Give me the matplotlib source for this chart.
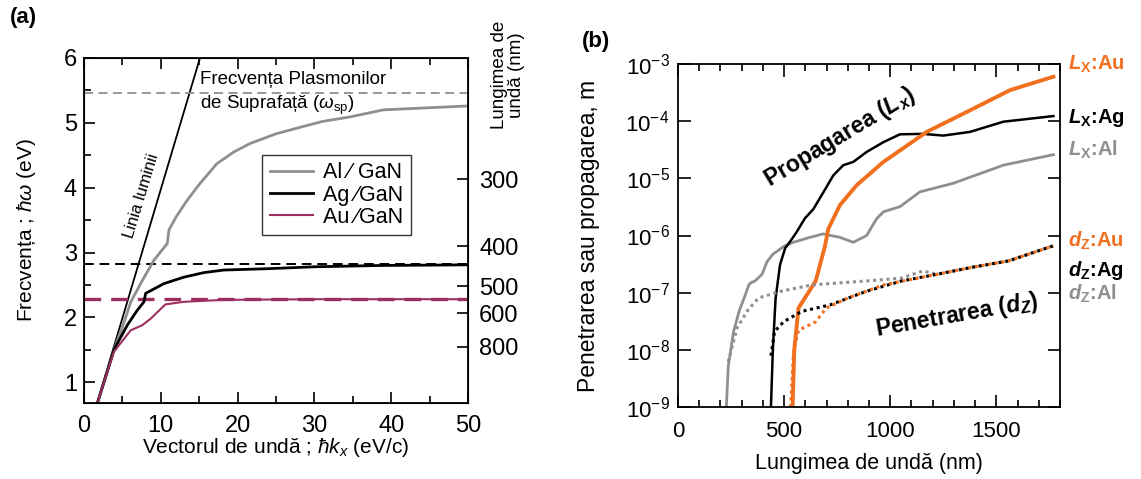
import numpy as np
import matplotlib
matplotlib.use("Agg")
import matplotlib.pyplot as plt
from matplotlib.ticker import MultipleLocator, NullLocator, FixedLocator, LogLocator

plt.rcParams['font.family'] = ['Liberation Sans', 'DejaVu Sans']
plt.rcParams['mathtext.fontset'] = 'custom'
plt.rcParams['mathtext.rm'] = 'Liberation Sans'
plt.rcParams['mathtext.sf'] = 'Liberation Sans'
plt.rcParams['mathtext.it'] = 'Liberation Sans:italic'
plt.rcParams['mathtext.bf'] = 'Liberation Sans:bold'
plt.rcParams['mathtext.bfit'] = 'Liberation Sans:italic:bold'

# ---- panel (a): dispersion, energy (eV) vs wave vector (eV/c)
k_light = [0, 15.1]
e_light = [0, 6.0]

k_al = [1.75, 3.0, 3.9, 5.0, 6.1, 7.6, 9.1, 10.85, 11.07, 12.0, 13.4, 15.0, 17.3, 19.5, 21.6, 25.0, 28.1, 31.0, 34.6, 39.0, 50.0]
e_al = [0.68, 1.15, 1.5, 1.85, 2.24, 2.57, 2.88, 3.14, 3.35, 3.55, 3.8, 4.05, 4.37, 4.55, 4.68, 4.83, 4.93, 5.02, 5.09, 5.2, 5.26]

k_ag = [1.75, 3.0, 3.9, 5.64, 6.94, 7.81, 8.03, 10.4, 13.0, 15.6, 18.2, 23.8, 30.0, 38.5, 50.0]
e_ag = [0.68, 1.15, 1.5, 1.88, 2.11, 2.24, 2.37, 2.52, 2.62, 2.69, 2.73, 2.75, 2.78, 2.80, 2.81]

k_au = [1.75, 3.0, 3.9, 6.08, 7.59, 8.68, 10.6, 13.0, 18.2, 30.0, 50.0]
e_au = [0.68, 1.15, 1.47, 1.80, 1.88, 1.98, 2.20, 2.24, 2.27, 2.28, 2.28]

sp_al, sp_ag, sp_au = 5.46, 2.83, 2.29
wl_ticks = [300, 400, 500, 600, 800]

# ---- panel (b): propagation / penetration length (m) vs wavelength (nm)
wl_lx_au = [540, 548, 568, 649, 693, 708, 763, 842, 968, 1172, 1376, 1565, 1769]
lx_au = [1e-9, 1e-8, 5.4e-8, 1.6e-7, 6.6e-7, 1.3e-6, 3.4e-6, 7.6e-6, 1.94e-5, 6.5e-5, 1.55e-4, 3.5e-4, 6.0e-4]

wl_lx_ag = [438, 447, 460, 481, 505, 530, 559, 598, 638, 685, 732, 779, 826, 889, 968, 1046, 1156, 1250, 1376, 1533, 1769]
lx_ag = [1e-9, 1e-8, 8e-8, 3.1e-7, 6e-7, 8e-7, 1.15e-6, 2.0e-6, 2.9e-6, 5.7e-6, 1.13e-5, 1.7e-5, 1.94e-5, 2.9e-5,
         4.3e-5, 5.9e-5, 6.0e-5, 5.6e-5, 6.5e-5, 9.8e-5, 1.23e-4]

wl_lx_al = [228, 237, 262, 290, 312, 335, 345, 363, 396, 420, 447, 500, 543, 622, 685, 720, 763, 826, 889, 936, 968,
            1046, 1140, 1297, 1533, 1769]
lx_al = [1e-9, 5.2e-9, 2.1e-8, 5.0e-8, 8.1e-8, 1.4e-7, 1.5e-7, 1.6e-7, 2.1e-7, 3.5e-7, 4.7e-7, 6.5e-7, 7.6e-7, 9.3e-7,
         1.07e-6, 1.0e-6, 9.3e-7, 7.6e-7, 1.0e-6, 1.97e-6, 2.6e-6, 3.2e-6, 5.8e-6, 8.2e-6, 1.7e-5, 2.6e-5]

wl_dz_al = [237, 278, 330, 380, 481, 632, 885, 1053, 1154, 1221, 1390, 1558, 1768]
dz_al = [6.2e-9, 2.4e-8, 5e-8, 8.1e-8, 1.05e-7, 1.37e-7, 1.6e-7, 1.8e-7, 2.4e-7, 2.1e-7, 2.8e-7, 3.6e-7, 6.6e-7]

wl_dz_ag = [438, 455, 498, 582, 716, 885, 1053, 1221, 1390, 1558, 1768]
dz_ag = [7.9e-9, 2.1e-8, 3.1e-8, 4.7e-8, 6.1e-8, 1.05e-7, 1.6e-7, 2.1e-7, 2.8e-7, 3.6e-7, 6.6e-7]

wl_dz_au = [531, 545, 568, 649, 699, 801, 969, 1221, 1390, 1558, 1768]
dz_au = [1e-9, 1e-8, 2.2e-8, 3.1e-8, 5.4e-8, 8.1e-8, 1.37e-7, 2.1e-7, 2.8e-7, 3.6e-7, 6.6e-7]

right_labels = [r"$\mathbfit{L}_\mathbf{X}$:Au", r"$\mathbfit{L}_\mathbf{X}$:Ag", r"$\mathbfit{L}_\mathbf{X}$:Al",
                r"$\mathbfit{d}_\mathbf{Z}$:Au", r"$\mathbfit{d}_\mathbf{Z}$:Ag", r"$\mathbfit{d}_\mathbf{Z}$:Al"]
right_label_y = [1.0e-3, 1.13e-4, 3.1e-5, 8.1e-7, 2.4e-7, 9.6e-8]

gray = '#8f8f8f'
purple = '#9c2f5f'
orange = '#f07020'
right_label_colors = [orange, 'black', gray, orange, 'black', gray]

fig = plt.figure(figsize=(11.41, 4.79), dpi=100)
axa = fig.add_axes([0.0736, 0.1587, 0.3366, 0.7203])
axb = fig.add_axes([0.5942, 0.1503, 0.3348, 0.716])

# ---------------- panel a
axa.plot(k_light, e_light, color='black', lw=1.3)
axa.axhline(sp_al, color=gray, lw=1.3, dashes=(5, 3))
axa.axhline(sp_ag, color='black', lw=1.4, dashes=(5, 3))
axa.axhline(sp_au, color=purple, lw=2.4, dashes=(5, 3))
l1, = axa.plot(k_al, e_al, color=gray, lw=2.0)
l2, = axa.plot(k_ag, e_ag, color='black', lw=2.0)
l3, = axa.plot(k_au, e_au, color=purple, lw=1.5)

axa.set_xlim(0, 50)
axa.set_ylim(0.68, 6.0)
axa.xaxis.set_major_locator(MultipleLocator(10))
axa.xaxis.set_minor_locator(MultipleLocator(5))
axa.yaxis.set_major_locator(MultipleLocator(1))
axa.yaxis.set_minor_locator(MultipleLocator(0.5))
axa.tick_params(which='both', direction='in', top=True, right=False, labelsize=17)
axa.tick_params(which='major', length=8, width=1.2)
axa.tick_params(which='minor', length=5, width=1.2)
axa.tick_params(axis='x', which='both', pad=9)
axa.tick_params(axis='y', which='both', pad=5)
for s in axa.spines.values():
    s.set_linewidth(1.3)

axa.set_xlabel(r"Vectorul de undă ; $\hbar k_x$ (eV/c)", fontsize=15)
axa.set_ylabel(r"Frecvența ; $\hbar\omega$ (eV)", fontsize=15)
axa.xaxis.set_label_coords(0.5, -0.095)
axa.yaxis.set_label_coords(-0.12, 0.5)

leg = axa.legend([l1, l2, l3], ["Al ⁄ GaN", "Ag ⁄GaN", "Au ⁄GaN"], loc='upper left',
                 bbox_to_anchor=(0.4635, 0.719), borderaxespad=0, fontsize=15.5, frameon=True,
                 fancybox=False, edgecolor='black', handlelength=2.0, handletextpad=0.5,
                 labelspacing=0.05, borderpad=0.35)
leg.get_frame().set_linewidth(1.0)

axa.text(0.151, 0.60, "Linia luminii", transform=axa.transAxes, rotation=73, fontsize=12,
         ha='center', va='center', rotation_mode='anchor')
axa.text(0.302, 0.895, "Frecvența Plasmonilor\n" + r"de Suprafață ($\omega_{\rm sp}$)",
         transform=axa.transAxes, fontsize=13.5, ha='left', va='center', linespacing=1.35)

axr = axa.twinx()
axr.set_ylim(axa.get_ylim())
axr.yaxis.set_major_locator(FixedLocator([1240.0 / w for w in wl_ticks]))
axr.yaxis.set_minor_locator(NullLocator())
axr.set_yticklabels([str(w) for w in wl_ticks])
axr.tick_params(direction='in', length=8, width=1.2, labelsize=17, pad=8)
fig.text(508 / 1141, 1 - 75 / 479, "Lungimea de\nundă (nm)", rotation=90, ha='center', va='center',
         multialignment='center', fontsize=13.5, linespacing=0.95)

# ---------------- panel b
axb.plot(wl_lx_al, lx_al, color=gray, lw=2.0)
axb.plot(wl_lx_ag, lx_ag, color='black', lw=1.8)
axb.plot(wl_lx_au, lx_au, color=orange, lw=2.8)
axb.plot(wl_dz_al, dz_al, color=gray, lw=2.2, linestyle=(0, (1, 1.2)))
axb.plot(wl_dz_ag, dz_ag, color='black', lw=2.2, linestyle=(0, (1, 1.2)))
axb.plot(wl_dz_au, dz_au, color=orange, lw=2.2, linestyle=(0, (1, 1.2)))

axb.set_yscale('log')
axb.set_xlim(0, 1800)
axb.set_ylim(1e-9, 1e-3)
axb.xaxis.set_major_locator(MultipleLocator(500))
axb.xaxis.set_minor_locator(MultipleLocator(100))
axb.yaxis.set_major_locator(LogLocator(base=10, numticks=10))
axb.yaxis.set_minor_locator(NullLocator())
axb.tick_params(which='both', direction='in', top=True, right=True, labelsize=16)
axb.tick_params(which='major', length=9, width=1.2)
axb.tick_params(which='minor', length=5, width=1.2)
axb.tick_params(axis='x', which='both', pad=10)
axb.tick_params(axis='y', which='both', pad=6)
for s in axb.spines.values():
    s.set_linewidth(1.3)

axb.set_xlabel("Lungimea de undă (nm)", fontsize=15.5)
axb.set_ylabel("Penetrarea sau propagarea, m", fontsize=16.5)
axb.xaxis.set_label_coords(0.5, -0.135)
axb.yaxis.set_label_coords(-0.205, 0.5)

axb.text(763, 5.2e-5, r"Propagarea ($\mathbfit{L}_\mathbfit{x}$)", fontsize=16.5, fontweight='bold',
         rotation=31, ha='center', va='center', rotation_mode='anchor')
axb.text(1315, 4.0e-8, r"Penetrarea ($\mathbfit{d}_\mathbfit{Z}$)", fontsize=16.5, fontweight='bold',
         rotation=10, ha='center', va='center', rotation_mode='anchor')

trans = axb.get_yaxis_transform()
for lab, yv, col in zip(right_labels, right_label_y, right_label_colors):
    axb.text(1.021, yv, lab, transform=trans, color=col, fontsize=14.5, fontweight='bold',
             ha='left', va='center', clip_on=False)

fig.text(10 / 1141, 1 - 18 / 479, "(a)", fontsize=16, fontweight='bold', ha='left', va='center')
fig.text(582 / 1141, 1 - 42 / 479, "(b)", fontsize=16, fontweight='bold', ha='left', va='center')

fig.savefig("out.png", dpi=100)
